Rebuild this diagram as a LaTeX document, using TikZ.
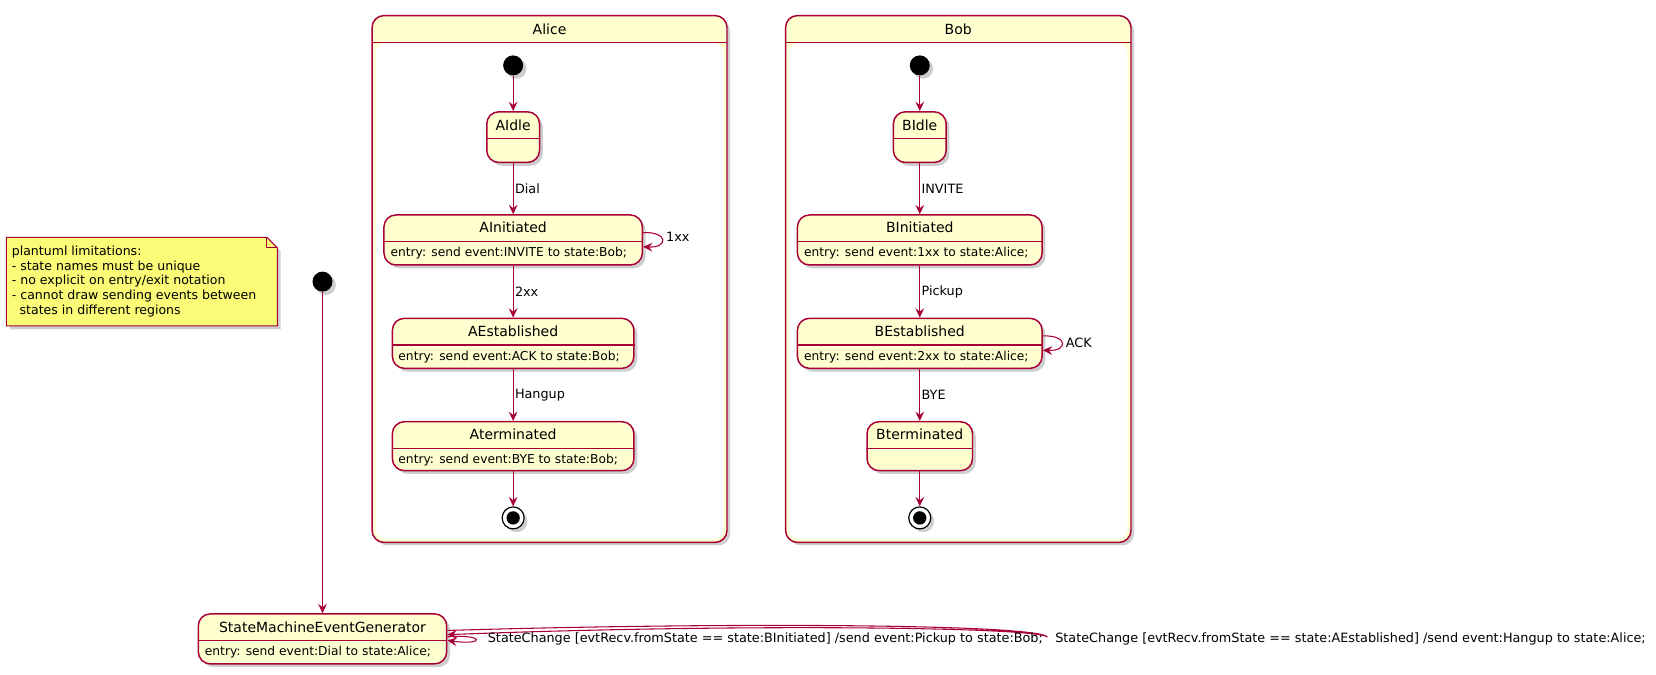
\documentclass[tikz,border=0pt]{standalone}
\usepackage{fontspec}
\setmainfont{DejaVu Sans}
\usetikzlibrary{arrows.meta,shadows,fit,calc}
\definecolor{pborder}{HTML}{A80036}
\definecolor{pfill}{HTML}{FEFECE}
\definecolor{pnote}{HTML}{FBFB77}
\begin{document}
\begin{tikzpicture}[x=0.7911pt,y=-0.7911pt,
 shad/.style={drop shadow={shadow xshift=2.5pt,shadow yshift=-2.5pt,opacity=0.35,fill=black!55}},
 statebox/.style={draw=pborder,fill=pfill,line width=1.1pt,rounded corners=9pt,inner sep=0pt,shad},
 divider/.style={draw=pborder,line width=1pt},
 sname/.style={font=\fontsize{10.5}{12}\selectfont,inner sep=0pt,text height=7.6pt,text depth=0pt},
 sentry/.style={font=\fontsize{9.2}{11}\selectfont,inner sep=0pt,anchor=west,text height=6.9pt,text depth=1.8pt},
 lbl/.style={font=\fontsize{9.6}{11}\selectfont,inner sep=1pt,text=black},
 arr/.style={draw=pborder,line width=0.8pt,-{Stealth[length=7pt,width=6.5pt,inset=2.5pt]}},
 initstate/.style={circle,fill=black,minimum size=15pt,inner sep=0pt,shad},
 finalstate/.style={circle,draw=black,line width=0.9pt,fill=white,minimum size=16.5pt,inner sep=0pt,shad},
 contbox/.style={inner sep=0pt,rounded corners=9pt,fill=pfill,shad},
 contborder/.style={draw=pborder,line width=1.1pt,rounded corners=9pt},
]
\useasboundingbox (0,0) rectangle (1570,639);

% ---------- note ----------
\path[draw=pborder,fill=pnote,line width=0.8pt,shad] (6,225) -- (253,225) -- (263,235) -- (263,309) -- (6,309) -- cycle;
\draw[pborder,line width=0.8pt] (253,225) -- (253,235) -- (263,235);
\node[font=\fontsize{9.4}{11}\selectfont,align=left,anchor=north west,inner sep=0pt] (notetext) at (11,233) {plantuml limitations:\\- state names must be unique\\- no explicit on entry/exit notation\\- cannot draw sending events between\\\hspace*{0.62em}states in different regions};

% ---------- Alice container ----------
\node[contbox,fit={(353,15) (689,514)}] (Alice) {};
\fill[white,rounded corners=7pt] (356,41) rectangle (686,511);
\draw[contborder] (Alice.north west) rectangle (Alice.south east);
\draw[divider] (353,40.5) -- (689,40.5);
\node[sname] (AliceT) at (521,27.5) {Alice};

% ---------- Bob container ----------
\node[contbox,fit={(745,15) (1072,514)}] (Bob) {};
\fill[white,rounded corners=7pt] (748,41) rectangle (1069,511);
\draw[contborder] (Bob.north west) rectangle (Bob.south east);
\draw[divider] (745,40.5) -- (1072,40.5);
\node[sname] (BobT) at (908.5,27.5) {Bob};

% ---------- Alice states ----------
\node[initstate] (Ai) at (486.5,62) {};
\node[statebox,fit={(461.5,106) (511.5,154)}] (AIdle) {};
\draw[divider] (AIdle.west |- 0,131) -- (AIdle.east |- 0,131);
\node[sname] (AIdleT) at (486.5,118.5) {AIdle};

\node[statebox,fit={(364,203.8) (609,251.2)}] (AInit) {};
\draw[divider] (AInit.west |- 0,229) -- (AInit.east |- 0,229);
\node[sname] (AInitT) at (486.5,215.8) {AInitiated};
\node[sentry] (AInitE) at (370,240) {entry: send event:INVITE to state:Bob;};

\node[statebox,fit={(372,301.8) (601,349.2)}] (AEst) {};
\draw[divider] (AEst.west |- 0,327) -- (AEst.east |- 0,327);
\node[sname] (AEstT) at (486.5,313.8) {AEstablished};
\node[sentry] (AEstE) at (377.5,338.3) {entry: send event:ACK to state:Bob;};

\node[statebox,fit={(372,399.8) (601,446.2)}] (ATerm) {};
\draw[divider] (ATerm.west |- 0,425.5) -- (ATerm.east |- 0,425.5);
\node[sname] (ATermT) at (486.5,411.5) {Aterminated};
\node[sentry] (ATermE) at (377.5,436.3) {entry: send event:BYE to state:Bob;};

\node[finalstate] (Af) at (486.5,491) {};
\fill[black] (Af.center) circle (5pt);

\draw[arr] (Ai) -- (AIdle);
\draw[arr] (AIdle) -- node[lbl,anchor=west] (lDial) {Dial} (AInit);
\draw[arr] (AInit) -- node[lbl,anchor=west] (l2xx) {2xx} (AEst);
\draw[arr] (AEst) -- node[lbl,anchor=west] (lHangup) {Hangup} (ATerm);
\draw[arr] (ATerm) -- (Af);
\draw[arr] ($(AInit.east)+(0,-7)$) .. controls +(24,-1) and +(24,1) .. ($(AInit.east)+(0,6.5)$);
\node[lbl,anchor=west] (l1xx) at (630,225) {1xx};

% ---------- Bob states ----------
\node[initstate] (Bi) at (872,62) {};
\node[statebox,fit={(847,106) (897,154)}] (BIdle) {};
\draw[divider] (BIdle.west |- 0,131) -- (BIdle.east |- 0,131);
\node[sname] (BIdleT) at (872,118.5) {BIdle};

\node[statebox,fit={(756,203.8) (988,251.2)}] (BInit) {};
\draw[divider] (BInit.west |- 0,229) -- (BInit.east |- 0,229);
\node[sname] (BInitT) at (872,215.8) {BInitiated};
\node[sentry] (BInitE) at (762,240) {entry: send event:1xx to state:Alice;};

\node[statebox,fit={(756,301.8) (988,349.2)}] (BEst) {};
\draw[divider] (BEst.west |- 0,327) -- (BEst.east |- 0,327);
\node[sname] (BEstT) at (872,313.8) {BEstablished};
\node[sentry] (BEstE) at (762,338.3) {entry: send event:2xx to state:Alice;};

\node[statebox,fit={(822,399.8) (922,446.2)}] (BTerm) {};
\draw[divider] (BTerm.west |- 0,425.5) -- (BTerm.east |- 0,425.5);
\node[sname] (BTermT) at (872,411.5) {Bterminated};

\node[finalstate] (Bf) at (872,491) {};
\fill[black] (Bf.center) circle (5pt);

\draw[arr] (Bi) -- (BIdle);
\draw[arr] (BIdle) -- node[lbl,anchor=west] (lInvite) {INVITE} (BInit);
\draw[arr] (BInit) -- node[lbl,anchor=west] (lPickup) {Pickup} (BEst);
\draw[arr] (BEst) -- node[lbl,anchor=west] (lBye) {BYE} (BTerm);
\draw[arr] (BTerm) -- (Bf);
\draw[arr] ($(BEst.east)+(0,-7)$) .. controls +(24,-1) and +(24,1) .. ($(BEst.east)+(0,6.5)$);
\node[lbl,anchor=west] (lAck) at (1009,325) {ACK};

% ---------- generator ----------
\node[initstate] (Gi) at (305.75,267) {};
\node[statebox,fit={(188,582) (423.5,629.4)}] (SMEG) {};
\draw[divider] (SMEG.west |- 0,607.2) -- (SMEG.east |- 0,607.2);
\node[sname] (SMEGT) at (305.75,594.7) {StateMachineEventGenerator};
\node[sentry] (SMEGE) at (194,618.3) {entry: send event:Dial to state:Alice;};
\draw[arr] (Gi) -- (SMEG);

\draw[arr] ($(SMEG.east)+(0,-2)$) .. controls (460,601) and (460,612) .. ($(SMEG.east)+(0,1.5)$);
\draw[arr] ($(SMEG.east)+(0,-8)$) .. controls (700,589.5) and (986,592) .. (993,604) .. controls (986,594.5) and (700,591) .. ($(SMEG.east)+(0,-4)$);
\node[lbl,anchor=west] (lSC1) at (461,606) {StateChange [evtRecv.fromState == state:BInitiated] /send event:Pickup to state:Bob;};
\node[lbl,anchor=west] (lSC2) at (999,606) {StateChange [evtRecv.fromState == state:AEstablished] /send event:Hangup to state:Alice;};
\end{tikzpicture}
\end{document}
